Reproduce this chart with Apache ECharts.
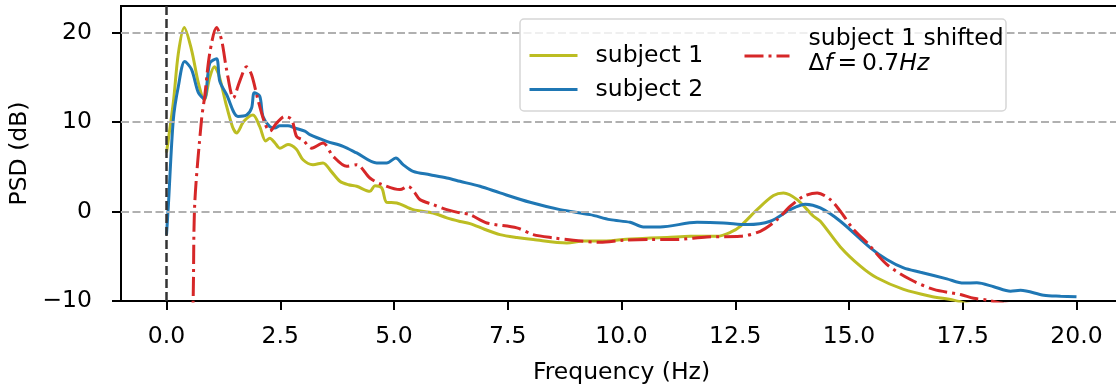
<!DOCTYPE html>
<html>
<head>
<meta charset="utf-8">
<script src="https://cdn.jsdelivr.net/npm/echarts@6/dist/echarts.min.js"></script>
<style>
html,body{margin:0;padding:0;background:#fff;}
#chart{width:1116px;height:390px;}
</style>
</head>
<body>
<div id="chart"></div>
<script>
// ---- data ----
const xTicks = [0, 2.5, 5, 7.5, 10, 12.5, 15, 17.5, 20];
const yTicks = [-10, 0, 10, 20];
const gridLevels = [0, 10, 20];

const s1F = [0, 0.15, 0.26, 0.39, 0.55, 0.7, 0.83, 0.95, 1.05, 1.15, 1.3, 1.45, 1.54, 1.7, 1.9, 2.05, 2.18, 2.27, 2.38, 2.49, 2.67, 2.85, 3.0, 3.22, 3.44, 3.62, 3.81, 4.0, 4.18, 4.47, 4.58, 4.73, 4.84, 5.06, 5.42, 5.86, 6.16, 6.45, 6.67, 7.0, 7.33, 7.7, 8.06, 8.8, 9.16, 9.53, 10.04, 10.63, 11.0, 11.51, 12.1, 12.4, 12.61, 12.98, 13.34, 13.56, 13.86, 14.22, 14.37, 14.81, 15.25, 15.61, 16.2, 16.79, 17.3, 17.6, 18.5, 20];
const s1V = [6.6, 12.2, 17.7, 20.6, 18.1, 14.4, 12.5, 15.0, 16.2, 15.3, 12.2, 9.5, 8.8, 10.1, 10.8, 9.5, 7.9, 8.2, 7.7, 7.1, 7.5, 7.0, 5.8, 5.25, 5.44, 4.5, 3.4, 3.0, 2.83, 2.27, 2.9, 2.65, 1.04, 0.97, 0.22, -0.15, -0.7, -1.1, -1.34, -2.0, -2.57, -2.9, -3.13, -3.5, -3.3, -3.3, -3.13, -2.94, -2.9, -2.76, -2.76, -2.3, -1.64, 0.22, 1.79, 2.09, 1.34, -0.52, -1.08, -3.95, -6.1, -7.4, -8.7, -9.46, -9.9, -10.3, -11, -12];

const s2F = [0, 0.04, 0.15, 0.26, 0.4, 0.55, 0.7, 0.83, 0.95, 1.1, 1.17, 1.32, 1.57, 1.76, 1.87, 1.93, 2.05, 2.12, 2.27, 2.38, 2.49, 2.67, 2.82, 3.04, 3.15, 3.52, 3.88, 4.18, 4.62, 4.84, 5.04, 5.2, 5.42, 5.79, 6.16, 6.45, 6.89, 7.33, 7.99, 8.65, 9.31, 9.75, 10.19, 10.48, 10.85, 11.66, 12.24, 12.76, 13.27, 13.71, 14.04, 14.37, 14.81, 15.47, 15.83, 16.2, 16.57, 17.15, 17.52, 17.81, 18.18, 18.55, 18.77, 19.28, 19.65, 20.0];
const s2V = [-2.6, 0.6, 10.3, 14.0, 16.8, 15.9, 13.3, 12.6, 16.6, 17.1, 14.6, 13.1, 10.65, 10.8, 11.6, 13.3, 12.9, 10.65, 9.5, 9.35, 9.6, 9.6, 9.35, 9.0, 8.6, 7.86, 7.3, 6.56, 5.44, 5.44, 6.0, 5.25, 4.5, 4.13, 3.76, 3.39, 2.83, 2.09, 1.04, 0.22, -0.34, -0.9, -1.2, -1.71, -1.71, -1.2, -1.27, -1.45, -1.08, 0.22, 0.82, 0.41, -1.08, -4.06, -5.36, -6.3, -6.78, -7.52, -8.0, -7.97, -8.4, -8.9, -8.8, -9.35, -9.46, -9.53];

const shF = [0.55, 0.585, 0.62, 0.77, 0.84, 0.95, 1.1, 1.21, 1.32, 1.47, 1.61, 1.76, 1.87, 2.01, 2.16, 2.27, 2.42, 2.6, 2.75, 2.86, 3.0, 3.19, 3.44, 3.66, 3.96, 4.18, 4.47, 4.69, 5.13, 5.31, 5.46, 5.57, 5.86, 6.16, 6.45, 6.67, 7.04, 7.7, 8.06, 8.5, 8.94, 9.53, 10.04, 10.63, 11.14, 11.88, 12.61, 13.05, 13.42, 13.71, 14.0, 14.3, 14.59, 14.81, 15.1, 15.4, 15.83, 16.35, 16.86, 17.45, 17.74, 18.03, 18.4, 20];
const shV = [-13, -10, 0.8, 10.3, 12.9, 17.7, 20.6, 19.2, 15.9, 12.7, 14.6, 16.2, 15.3, 12.5, 9.9, 9.0, 9.9, 10.65, 10.3, 8.4, 8.0, 7.1, 7.67, 6.2, 5.06, 5.25, 3.76, 3.13, 2.46, 2.83, 2.09, 1.34, 0.78, 0.22, -0.15, -0.34, -1.27, -1.82, -2.57, -2.94, -3.2, -3.43, -3.2, -3.13, -3.13, -2.83, -2.76, -2.2, -0.9, 0.6, 1.71, 2.09, 1.34, 0.04, -2.0, -3.5, -5.9, -7.6, -8.7, -9.27, -9.7, -9.9, -10.3, -11.5];

const zip = (a, b) => a.map((v, i) => [v, b[i]]);
const FONT = 'DejaVu Sans';
const FS = 23.5;
const fmtY = v => v < 0 ? '\u2212' + Math.abs(v) : String(v);
const hiddenSymbol = {color: 'rgba(0,0,0,0)', borderColor: 'rgba(0,0,0,0)', borderWidth: 0, opacity: 0};

const chart = echarts.init(document.getElementById('chart'), null, {renderer: 'canvas'});
chart.setOption({
  animation: false,
  backgroundColor: '#fff',
  textStyle: {fontFamily: FONT},
  grid: {left: 121, top: 6, right: -6, bottom: 89, show: true, borderColor: '#000', borderWidth: 2,
         backgroundColor: 'transparent', containLabel: false, outerBoundsMode: 'none'},
  xAxis: {
    type: 'value', min: -1, max: 21,
    splitLine: {show: false},
    axisLine: {show: true, onZero: false, lineStyle: {color: '#000', width: 2}},
    axisTick: {show: true, length: 9, lineStyle: {color: '#000', width: 2}, customValues: xTicks},
    axisLabel: {customValues: xTicks, formatter: v => v.toFixed(1), fontSize: FS, color: '#000', fontFamily: FONT, margin: 24},
    name: 'Frequency (Hz)', nameLocation: 'middle', nameGap: 60,
    nameTextStyle: {fontSize: FS, color: '#000', fontFamily: FONT}
  },
  yAxis: {
    type: 'value', min: -10, max: 23,
    splitLine: {show: false},
    axisLine: {show: true, onZero: false, lineStyle: {color: '#000', width: 2}},
    axisTick: {show: true, length: 9, lineStyle: {color: '#000', width: 2}, customValues: yTicks},
    axisLabel: {customValues: yTicks, formatter: fmtY, fontSize: FS, color: '#000', fontFamily: FONT, margin: 29},
    name: 'PSD (dB)', nameLocation: 'middle', nameGap: 88,
    nameTextStyle: {fontSize: FS, color: '#000', fontFamily: FONT}
  },
  graphic: [{
    type: 'rect', z: 8,
    shape: {x: 520, y: 19, width: 486, height: 92, r: 4},
    style: {fill: 'rgba(255,255,255,0.8)', stroke: '#d6d6d6', lineWidth: 1.5}
  }],
  legend: [{
    z: 10, padding: 0,
    data: ['subject 1', 'subject 2'],
    orient: 'vertical', left: 528, top: 42,
    itemWidth: 48, itemHeight: 14, itemGap: 7,
    itemStyle: hiddenSymbol,
    lineStyle: {width: 3},
    textStyle: {fontSize: FS, lineHeight: 27, color: '#000', fontFamily: FONT, padding: [0, 0, 0, 13]}
  }, {
    z: 10, padding: 0,
    data: ['subject 1 shifted'],
    orient: 'vertical', left: 743, top: 26.5,
    itemWidth: 45, itemHeight: 14,
    itemStyle: hiddenSymbol,
    lineStyle: {width: 3},
    formatter: () => '{a|subject 1 shifted}\n{m|\u0394}{i|f}{m|\u2009=\u20090.7}{i|Hz}',
    textStyle: {
      fontSize: FS, lineHeight: 25, color: '#000', fontFamily: FONT, padding: [0, 0, 9, 14],
      rich: {
        a: {fontSize: FS, lineHeight: 25, fontFamily: FONT, color: '#000'},
        m: {fontSize: FS, lineHeight: 25, fontFamily: FONT, color: '#000'},
        i: {fontSize: FS, lineHeight: 25, fontFamily: FONT, fontStyle: 'italic', color: '#000'}
      }
    }
  }],
  series: [{
    name: 'gridlines', type: 'line', data: [], z: 1, silent: true,
    markLine: {
      silent: true, symbol: 'none', label: {show: false}, animation: false,
      lineStyle: {color: '#b0b0b0', width: 1.8, type: [8, 3.5]},
      data: gridLevels.map(v => ({yAxis: v}))
    }
  }, {
    name: 'zero', type: 'line', data: [], z: 2, silent: true,
    markLine: {
      silent: true, symbol: 'none', label: {show: false}, animation: false,
      lineStyle: {color: '#333', width: 2.5, type: [9, 4]},
      data: [{xAxis: 0}]
    }
  }, {
    name: 'subject 1', type: 'line', data: zip(s1F, s1V), z: 3,
    showSymbol: false, symbol: 'none', smooth: 0.3, clip: true,
    color: '#bcbd22', lineStyle: {color: '#bcbd22', width: 3}
  }, {
    name: 'subject 2', type: 'line', data: zip(s2F, s2V), z: 4,
    showSymbol: false, symbol: 'none', smooth: 0.3, clip: true,
    color: '#1f77b4', lineStyle: {color: '#1f77b4', width: 3}
  }, {
    name: 'subject 1 shifted', type: 'line', data: zip(shF, shV), z: 5,
    showSymbol: false, symbol: 'none', smooth: 0.3, clip: true,
    color: '#d62728', lineStyle: {color: '#d62728', width: 3, type: [19, 5, 3, 5]}
  }]
});
</script>
</body>
</html>
